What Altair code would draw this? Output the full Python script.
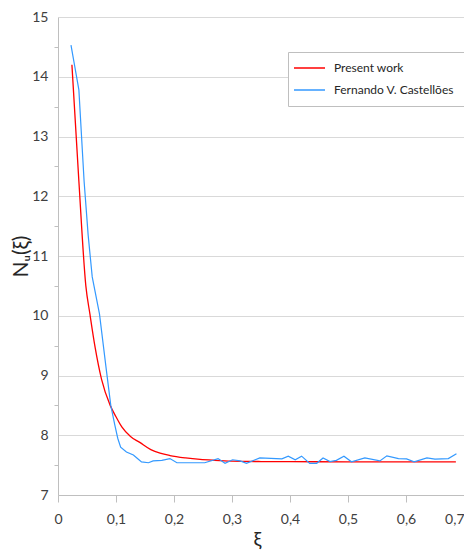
import altair as alt
import pandas as pd

series_names = ["Present work", "Fernando V. Castellões"]
series_colors = ["#ff0000", "#3399ff"]

present_x = [0.024, 0.036, 0.048, 0.055, 0.064, 0.075, 0.09, 0.1, 0.11, 0.125, 0.141,
             0.16, 0.176, 0.193, 0.22, 0.245, 0.27, 0.3, 0.35, 0.4, 0.5, 0.6, 0.686]
present_y = [14.2, 12.25, 10.5, 10.03, 9.47, 8.94, 8.5, 8.31, 8.14, 7.98, 7.88,
             7.76, 7.7, 7.66, 7.62, 7.595, 7.58, 7.567, 7.56, 7.558, 7.556, 7.556, 7.556]

ref_x = [0.0224, 0.036, 0.045, 0.052, 0.059, 0.0715, 0.083, 0.091, 0.098, 0.103,
         0.108, 0.118, 0.130, 0.136, 0.144, 0.156, 0.164, 0.179, 0.193, 0.205,
         0.222, 0.253, 0.276, 0.288, 0.301, 0.314, 0.325, 0.340, 0.348, 0.386,
         0.397, 0.409, 0.420, 0.434, 0.446, 0.457, 0.469, 0.480, 0.493, 0.506,
         0.529, 0.555, 0.567, 0.587, 0.601, 0.614, 0.636, 0.650, 0.673, 0.687]
ref_y = [14.53, 13.78, 12.25, 11.35, 10.65, 10.03, 9.12, 8.50, 8.17, 7.95,
         7.80, 7.72, 7.67, 7.62, 7.555, 7.54, 7.57, 7.58, 7.61, 7.54,
         7.54, 7.54, 7.61, 7.53, 7.59, 7.57, 7.53, 7.59, 7.62, 7.605,
         7.65, 7.59, 7.65, 7.53, 7.53, 7.62, 7.56, 7.58, 7.65, 7.555,
         7.62, 7.57, 7.655, 7.61, 7.605, 7.555, 7.62, 7.60, 7.61, 7.69]

x_ticks = [0, 0.1, 0.2, 0.3, 0.4, 0.5, 0.6, 0.7]
y_ticks = [7 + 0.5 * i for i in range(17)]

df_present = pd.DataFrame({"xi": present_x, "nu": present_y, "series": series_names[0]})
df_ref = pd.DataFrame({"xi": ref_x, "nu": ref_y, "series": series_names[1]})

font = "Lato, 'Open Sans', sans-serif"
grid_c = "#d9d9d9"
axis_c = "#bfbfbf"
text_c = "#404040"

x_enc = alt.X(
    "xi:Q",
    scale=alt.Scale(domain=[0, 0.7], nice=False),
    axis=alt.Axis(
        values=x_ticks, grid=False, tickSize=7, tickColor=axis_c,
        domainColor=axis_c, labelPadding=10, labelFontSize=14,
        labelFont=font, labelColor=text_c,
        labelAlign={"condition": {"test": "datum.value >= 0.69", "value": "right"},
                    "value": "center"},
        labelExpr="datum.value == 0 ? '0' : replace(format(datum.value, '.1f'), '.', ',')",
        title="ξ", titleFont=font, titleFontSize=20, titleFontWeight="normal",
        titleColor="#262626", titleX=199, titleY=44,
        titleAlign="center", titleBaseline="middle"),
)
y_enc = alt.Y(
    "nu:Q",
    scale=alt.Scale(domain=[7, 15], nice=False, zero=False),
    axis=alt.Axis(
        values=y_ticks, tickSize=4,
        tickColor={"condition": {"test": "datum.value % 1 != 0", "value": axis_c},
                   "value": "transparent"},
        gridColor={"condition": {"test": "datum.value % 1 != 0", "value": "transparent"},
                   "value": grid_c},
        domainColor=axis_c, labelPadding=6, labelFontSize=14,
        labelFont=font, labelColor=text_c,
        labelExpr="datum.value % 1 == 0 ? format(datum.value, 'd') : ''",
        title="Nᵤ(ξ)", titleFont=font, titleFontSize=21, titleFontWeight="normal",
        titleColor="#262626", titleX=-37, titleY=239, titleAngle=270,
        titleAlign="center", titleBaseline="middle"),
)
color_enc = alt.Color(
    "series:N",
    scale=alt.Scale(domain=series_names, range=series_colors),
    legend=alt.Legend(orient="none", legendX=230, legendY=35, title=None,
                      fillColor="white", strokeColor=axis_c, padding=10,
                      rowPadding=10, symbolType="M-2,0H4.2", symbolSize=100,
                      symbolStrokeWidth=1.5, labelOffset=24, labelFont=font,
                      labelFontSize=12, labelColor="#262626", labelLimit=0),
)

red = alt.Chart(df_present).mark_line(strokeWidth=1.3, interpolate="monotone").encode(
    x=x_enc, y=y_enc, color=color_enc)
blue = alt.Chart(df_ref).mark_line(strokeWidth=1.2).encode(
    x=x_enc, y=y_enc, color=color_enc)

chart = alt.layer(red, blue).properties(
    width=406, height=478,
    autosize=alt.AutoSizeParams(type="none"),
    padding={"left": 50, "top": 9, "right": 0, "bottom": 55},
).configure_view(strokeWidth=0)

chart.save("out.html", embed_options={"renderer": "svg", "actions": False})
